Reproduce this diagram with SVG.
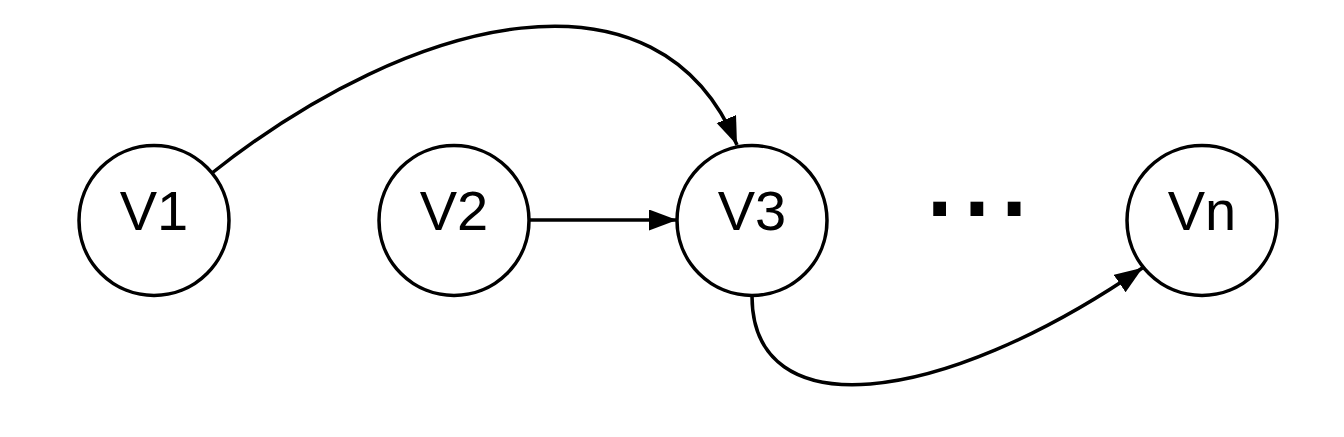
<svg xmlns="http://www.w3.org/2000/svg" width="1344" height="437" viewBox="0 0 1344 437">
<style>
.node{fill:#fff;stroke:#000;stroke-width:3.5}
.lbl{font-family:"Liberation Sans",Arial,sans-serif;font-size:56px;fill:#000;text-anchor:middle}
.edge{fill:none;stroke:#000;stroke-width:3.5}
</style>
<defs>
<marker id="arr" markerUnits="userSpaceOnUse" markerWidth="30" markerHeight="24" refX="28" refY="10.5" orient="auto" viewBox="0 0 30 24">
<path d="M0,0 L28,10.5 L0,21 z" fill="#000"/>
</marker>
</defs>
<rect width="1344" height="437" fill="#fff"/>
<g id="connectors">
<path class="edge" d="M212,173 C414,13 659,-44 737,145" marker-end="url(#arr)"/>
<path class="edge" d="M530,220 L677,220" marker-end="url(#arr)"/>
<path class="edge" d="M752,296 C752,427 937,409 1142.7,267.7" marker-end="url(#arr)"/>
</g>
<g id="V1"><circle class="node" cx="154" cy="220.5" r="75"/><text class="lbl" x="154" y="230">V1</text></g>
<g id="V2"><circle class="node" cx="454" cy="220.5" r="75"/><text class="lbl" x="454" y="230">V2</text></g>
<g id="V3"><circle class="node" cx="752" cy="220.5" r="75"/><text class="lbl" x="752" y="230">V3</text></g>
<g id="Vn"><circle class="node" cx="1202" cy="220.5" r="75"/><text class="lbl" x="1202" y="230">Vn</text></g>
<text x="921" y="215.7" font-family="Liberation Sans,Arial,sans-serif" font-size="134" fill="#000">...</text>
</svg>
